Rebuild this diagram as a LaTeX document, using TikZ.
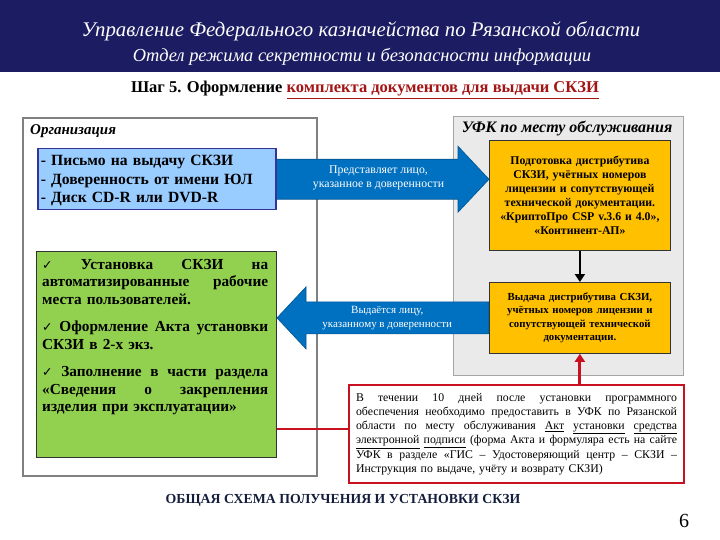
\documentclass[tikz,border=0pt]{standalone}
\usepackage{fontspec}
\setmainfont{Liberation Serif}
\newfontfamily\symfont{DejaVu Sans}
\usetikzlibrary{positioning,arrows.meta,calc,backgrounds}
\definecolor{navy}{RGB}{28,28,98}
\definecolor{darkred}{RGB}{165,20,20}
\definecolor{footnavy}{RGB}{20,30,60}
\definecolor{orggray}{RGB}{128,128,128}
\definecolor{ufkbg}{RGB}{234,234,234}
\definecolor{ufkline}{RGB}{165,165,165}
\definecolor{docblue}{RGB}{153,204,255}
\definecolor{docline}{RGB}{51,51,153}
\definecolor{instgreen}{RGB}{146,208,80}
\definecolor{distyellow}{RGB}{255,192,0}
\definecolor{arrblue}{RGB}{0,112,192}
\definecolor{notered}{RGB}{200,16,32}
\newcommand{\fsz}[2]{\fontsize{#1}{#2}\selectfont}
\newcommand{\chk}{{\symfont\fontsize{12.5}{12.5}\selectfont ✓}}
\newcommand{\jline}[2]{{\spaceskip=.3em plus 1fil\xspaceskip=.3em plus 1fil\makebox[#1][s]{#2}}}
\tikzset{
  area/.style={draw,anchor=north west,inner sep=0pt},
  orgarea/.style={area,draw=orggray,line width=2pt,fill=white},
  ufkarea/.style={area,draw=ufkline,line width=1pt,fill=ufkbg},
  areatitle/.style={font=\bfseries\itshape\fsz{15}{17},inner sep=0pt},
  blk/.style={draw,anchor=north west,inner sep=0pt},
  docs/.style={blk,fill=docblue,draw=docline,line width=1.5pt},
  inst/.style={blk,fill=instgreen,draw=black!80,line width=1pt},
  dist/.style={blk,fill=distyellow,draw=black!80,line width=0.8pt,align=center},
  note/.style={blk,draw=notered,line width=2pt,fill=white},
  bigarr/.style={fill=arrblue,draw=arrblue!75!black,line width=0.6pt},
  arrtxt/.style={text=white,align=center,inner sep=0pt},
  ar/.style={-{Triangle[length=8pt,width=10pt]},line width=2.5pt},
}
\begin{document}
\begin{tikzpicture}[x=1pt,y=-1pt]
  \useasboundingbox (0,0) rectangle (720,540);
  % header
  \node[anchor=north west,fill=navy,minimum width=720,minimum height=72,inner sep=0pt] (band) at (0,0) {};
  \node[text=white,font=\itshape\fsz{20.8}{22}] (dept) at (361,31) {Управление Федерального казначейства по Рязанской области};
  \node[text=white,font=\itshape\fsz{18.4}{20}] (sect) at (362,57) {Отдел режима секретности и безопасности информации};
  \node[font=\bfseries\fsz{16.5}{18}] (step) at (365,90) {Шаг 5. Оформление \textcolor{darkred}{\underline{комплекта документов для выдачи СКЗИ}}};
  % boxes
  \node[docs,minimum width=238,minimum height=61,text width=232,align=left,font=\bfseries\fsz{15.6}{18.8}] (docs) at (37,148)
    {\rule{0pt}{13pt}- Письмо на выдачу СКЗИ\\- Доверенность от имени ЮЛ\\- Диск CD-R или DVD-R};
  \node[inst,minimum width=240,minimum height=206] (inst) at (36,251) {};
  \node[anchor=north west,inner sep=0pt,text width=226,align=left,font=\bfseries\fsz{15.3}{17.5}] (insttxt) at (42,259)
    {\jline{226pt}{\chk\ Установка СКЗИ на}\\
     \jline{226pt}{автоматизированные рабочие}\\
     места пользователей.\\[10pt]
     \jline{226pt}{\chk\ Оформление Акта установки}\\
     СКЗИ в 2-х экз.\\[10pt]
     \jline{226pt}{\chk\ Заполнение в части раздела}\\
     \jline{226pt}{«Сведения о закрепления}\\
     изделия при эксплуатации»};
  \node[dist,minimum width=181,minimum height=110,text width=180,font=\bfseries\fsz{11.8}{14}] (dist1) at (489,140)
    {Подготовка дистрибутива\\СКЗИ, учётных номеров\\лицензии и сопутствующей\\технической документации.\\«КриптоПро CSP v.3.6 и 4.0»,\\«Континент-АП»};
  \node[dist,minimum width=181,minimum height=71,text width=178,font=\bfseries\fsz{10.8}{13.5}] (dist2) at (489,282)
    {Выдача дистрибутива СКЗИ,\\учётных номеров лицензии и\\сопутствующей технической\\документации.};
  \node[note,minimum width=335,minimum height=98,text width=321,align=left,font=\fsz{11.8}{14.2}] (note) at (348,384)
    {\jline{321pt}{В течении 10 дней после установки программного}\\
     \jline{321pt}{обеспечения необходимо предоставить в УФК по Рязанской}\\
     \jline{321pt}{области по месту обслуживания \underline{Акт} \underline{установки} \underline{средства}}\\
     \jline{321pt}{\underline{электронной} \underline{подписи} (форма Акта и формуляра есть на сайте}\\
     \jline{321pt}{УФК в разделе «ГИС – Удостоверяющий центр – СКЗИ –}\\
     Инструкция по выдаче, учёту и возврату СКЗИ)};
  \begin{scope}[on background layer]
    \node[orgarea,minimum width=294,minimum height=358] (org) at (22,117) {};
    \node[ufkarea,minimum width=230,minimum height=259] (ufk) at (453,116) {};
    % block arrows
    \coordinate (a1s) at (docs.east);
    \coordinate (a1t) at (dist1.west |- docs.east);
    \draw[bigarr] ($(a1s)+(0,-20)$) -- ($(a1t)+(-31,-20)$) -- ($(a1t)+(-31,-33)$) -- (a1t)
      -- ($(a1t)+(-31,33)$) -- ($(a1t)+(-31,20)$) -- ($(a1s)+(0,20)$) -- cycle;
    \coordinate (a2s) at (dist2.west);
    \coordinate (a2t) at (inst.east |- dist2.west);
    \draw[bigarr] ($(a2s)+(0,-16)$) -- ($(a2t)+(29,-16)$) -- ($(a2t)+(29,-31)$) -- (a2t)
      -- ($(a2t)+(29,31)$) -- ($(a2t)+(29,16)$) -- ($(a2s)+(0,16)$) -- cycle;
  \end{scope}
  \node[arrtxt,font=\fsz{11.8}{14}] (give) at ($(a1s)!0.48!(a1t)+(0,-1)$) {Представляет лицо,\\указанное в доверенности};
  \node[arrtxt,font=\fsz{11}{13.5}] (take) at ($(a2t)!0.52!(a2s)$) {Выдаётся лицу,\\указанному в доверенности};
  \node[areatitle,anchor=west] (orgname) at (30,131) {Организация};
  \node[areatitle,font=\bfseries\itshape\fsz{16}{18}] (ufkname) at (567,129) {УФК по месту обслуживания};
  \draw[ar] (dist1.south) -- (dist2.north);
  \draw[ar,notered,line width=3pt] (note.north -| dist2.south) -- (dist2.south);
  \draw[notered,line width=2pt] ($(note.west)+(0,-5)$) -- ($(note.west -| inst.east)+(0,-5)$);
  % footer
  \node[text=footnavy,font=\bfseries\fsz{13.8}{15}] (foot) at (343,500) {ОБЩАЯ СХЕМА ПОЛУЧЕНИЯ И УСТАНОВКИ СКЗИ};
  \node[font=\fsz{20}{22}] (page) at (684,521) {6};
\end{tikzpicture}
\end{document}
